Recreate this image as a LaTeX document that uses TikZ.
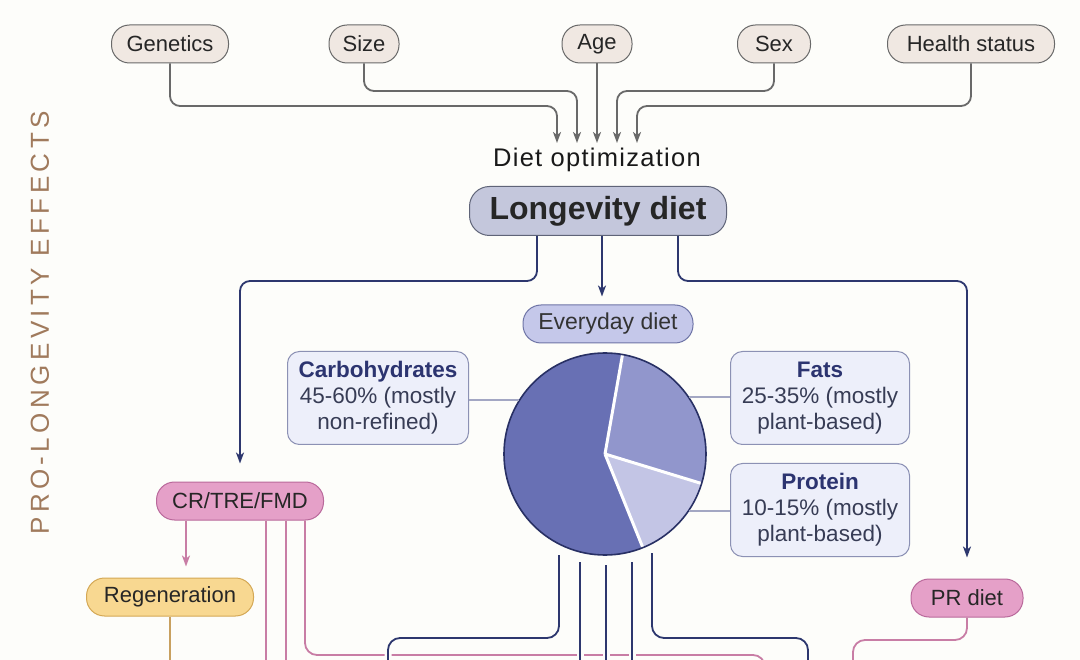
\documentclass[tikz,border=0pt]{standalone}
\usepackage{fontspec}
\setmainfont{Liberation Sans}
\usetikzlibrary{arrows.meta}
\definecolor{bgcol}{RGB}{253,253,250}
\definecolor{factorfill}{RGB}{240,232,226}
\definecolor{greyline}{RGB}{105,105,105}
\definecolor{ldietfill}{RGB}{196,199,220}
\definecolor{ldietdraw}{RGB}{95,100,120}
\definecolor{everyfill}{RGB}{197,200,234}
\definecolor{everydraw}{RGB}{110,116,166}
\definecolor{boxfill}{RGB}{237,239,250}
\definecolor{boxdraw}{RGB}{140,145,180}
\definecolor{navy}{RGB}{45,55,110}
\definecolor{titlenavy}{RGB}{44,52,112}
\definecolor{bodytext}{RGB}{55,60,85}
\definecolor{carbcol}{RGB}{104,112,180}
\definecolor{fatcol}{RGB}{145,150,204}
\definecolor{protcol}{RGB}{195,197,229}
\definecolor{piedraw}{RGB}{40,48,100}
\definecolor{pinkfill}{RGB}{229,160,200}
\definecolor{pinkdraw}{RGB}{185,105,155}
\definecolor{pinkline}{RGB}{200,125,165}
\definecolor{regenfill}{RGB}{248,216,145}
\definecolor{regendraw}{RGB}{212,168,85}
\definecolor{regenline}{RGB}{200,160,95}
\definecolor{sidetext}{RGB}{160,122,92}
\newfontfamily\spacedfam[LetterSpace=5]{Liberation Sans}
\newfontfamily\sidefam[LetterSpace=17]{Liberation Sans}
\newcommand{\nodefont}{\fontsize{22}{26}\selectfont}
\newcommand{\boxfont}{\fontsize{22.5}{26}\selectfont}
\newcommand{\bigfont}{\fontsize{32}{36}\selectfont\bfseries}

\begin{document}
\begin{tikzpicture}[x=1pt, y=-1pt,
    factor/.style={draw=greyline, line width=1pt, fill=factorfill, rounded corners=18pt,
      minimum height=38pt, inner sep=0pt, font=\nodefont, text=black!85},
    infobox/.style={draw=boxdraw, line width=1pt, fill=boxfill, rounded corners=12pt,
      minimum height=93pt, inner sep=0pt, align=center, font=\boxfont, text=bodytext},
    pinkpill/.style={draw=pinkdraw, line width=1pt, fill=pinkfill, rounded corners=18pt,
      minimum height=38pt, inner sep=0pt, font=\nodefont, text=black!85},
    tip/.style={-{Stealth[length=11pt, width=8pt, inset=3pt]}},
    greyarrow/.style={draw=greyline, line width=1.8pt, rounded corners=10pt, tip},
    navyarrow/.style={draw=navy, line width=1.8pt, rounded corners=10pt, tip},
    navyln/.style={draw=navy, line width=1.8pt, rounded corners=12pt,
      preaction={draw=bgcol, line width=7pt}},
    pinkln/.style={draw=pinkline, line width=1.8pt, rounded corners=12pt},
    labelln/.style={draw=boxdraw!80, line width=1.3pt}]

    \fill[bgcol] (0,0) rectangle (1080,660);
    \useasboundingbox (0,0) rectangle (1080,660);

    % side title
    \node[rotate=90, text=sidetext, font=\sidefam\fontsize{26}{30}\selectfont] (side) at (40,323) {PRO-LONGEVITY EFFECTS};

    % personal factors
    \node[factor, minimum width=117pt] (gen) at (170,44) {Genetics};
    \node[factor, minimum width=70pt] (size) at (364,44) {Size};
    \node[factor, minimum width=70pt] (age) at (597,44) {Age};
    \node[factor, minimum width=73pt] (sex) at (774,44) {Sex};
    \node[factor, minimum width=167pt] (health) at (971,44) {Health status};

    \node[font=\spacedfam\fontsize{25.5}{30}\selectfont, text=black!90] (opt) at (597,160) {Diet optimization};
    \coordinate (in1) at (557,143);
    \coordinate (in2) at (577,143);
    \coordinate (in3) at (597,143);
    \coordinate (in4) at (617,143);
    \coordinate (in5) at (637,143);

    \draw[greyarrow] (gen.south) |- (in1 |- 0,106) -- (in1);
    \draw[greyarrow] (size.south) |- (in2 |- 0,91) -- (in2);
    \draw[greyarrow] (age.south) -- (in3);
    \draw[greyarrow] (sex.south) |- (in4 |- 0,91) -- (in4);
    \draw[greyarrow] (health.south) |- (in5 |- 0,106) -- (in5);

    % longevity diet and its branches
    \node[draw=ldietdraw, line width=1pt, fill=ldietfill, rounded corners=20pt, minimum width=257pt,
      minimum height=49pt, inner sep=0pt, font=\bigfont, text=black!85] (ldiet) at (598,211) {Longevity diet};
    \node[draw=everydraw, line width=1pt, fill=everyfill, rounded corners=18pt, minimum width=170pt,
      minimum height=38pt, inner sep=0pt, font=\fontsize{23}{27}\selectfont, text=black!80] (every) at (608,324) {Everyday diet};
    \node[pinkpill, minimum width=167pt] (cr) at (240,501) {CR/TRE/FMD};
    \node[pinkpill, minimum width=112pt] (pr) at (967,598) {PR diet};
    \node[draw=regendraw, line width=1pt, fill=regenfill, rounded corners=18pt, minimum width=167pt,
      minimum height=38pt, inner sep=0pt, font=\nodefont, text=black!85] (regen) at (170,597) {Regeneration};

    \draw[navyarrow, shorten >=18pt] (ldiet.south -| 537,0) |- (cr.north |- 0,281) -- (cr.north);
    \draw[navyarrow, shorten >=8pt] (ldiet.south -| 602,0) -- (every.north -| 602,0);
    \draw[navyarrow, shorten >=21pt] (ldiet.south -| 678,0) |- (pr.north |- 0,281) -- (pr.north);

    % macronutrient pie
    \begin{scope}[shift={(605,454)}, yscale=-1]
        \fill[carbcol] (0,0) -- (80:101) arc[start angle=80, end angle=292, radius=101] -- cycle;
        \fill[fatcol] (0,0) -- (-17:101) arc[start angle=-17, end angle=80, radius=101] -- cycle;
        \fill[protcol] (0,0) -- (-68:101) arc[start angle=-68, end angle=-17, radius=101] -- cycle;
        \draw[white, line width=3pt] (0,0) -- (80:101) (0,0) -- (-17:101) (0,0) -- (-68:101);
    \end{scope}
    \node[circle, draw=piedraw, line width=1.6pt, minimum size=202pt, inner sep=0pt] (pie) at (605,454) {};

    \node[infobox, minimum width=181pt] (carbs) at (378,398)
      {\textbf{\color{titlenavy}Carbohydrates}\\45-60\% (mostly\\non-refined)};
    \node[infobox, minimum width=179pt] (fats) at (820,398)
      {\textbf{\color{titlenavy}Fats}\\25-35\% (mostly\\plant-based)};
    \node[infobox, minimum width=179pt] (prot) at (820,510)
      {\textbf{\color{titlenavy}Protein}\\10-15\% (mostly\\plant-based)};

    \draw[labelln] (pie.148) -- (pie.148 -| carbs.east);
    \draw[labelln] (pie.34) -- (pie.34 -| fats.west);
    \draw[labelln] (pie.-34) -- (pie.-34 -| prot.west);

    % lower connectors
    \coordinate (e1) at (170,660);
    \coordinate (e2) at (266,660);
    \coordinate (e3) at (286,660);
    \coordinate (e4) at (765,668);
    \coordinate (e5) at (388,668);
    \coordinate (e6) at (580,660);
    \coordinate (e7) at (606,660);
    \coordinate (e8) at (632,660);
    \coordinate (e9) at (808,668);
    \coordinate (e10) at (853,668);
    \coordinate (p1) at (559,555);
    \coordinate (p2) at (580,562);
    \coordinate (p3) at (606,565);
    \coordinate (p4) at (632,562);
    \coordinate (p5) at (652,553);

    \draw[draw=pinkline, line width=1.8pt, tip, shorten >=11pt]
      (cr.south -| 186,0) -- (regen.north -| 186,0);
    \draw[draw=regenline, line width=1.8pt] (regen.south) -- (e1);
    \draw[pinkln] (cr.south -| 266,0) -- (e2);
    \draw[pinkln] (cr.south -| 286,0) -- (e3);
    \draw[pinkln] (cr.south -| 305,0) |- (e4 |- 0,655) -- (e4);
    \draw[pinkln] (pr.south) |- (e10 |- 0,640) -- (e10);

    \draw[navyln] (p1) |- (e5 |- 0,638) -- (e5);
    \draw[navyln] (p2) -- (e6);
    \draw[navyln] (p3) -- (e7);
    \draw[navyln] (p4) -- (e8);
    \draw[navyln] (p5) |- (e9 |- 0,638) -- (e9);
\end{tikzpicture}
\end{document}
